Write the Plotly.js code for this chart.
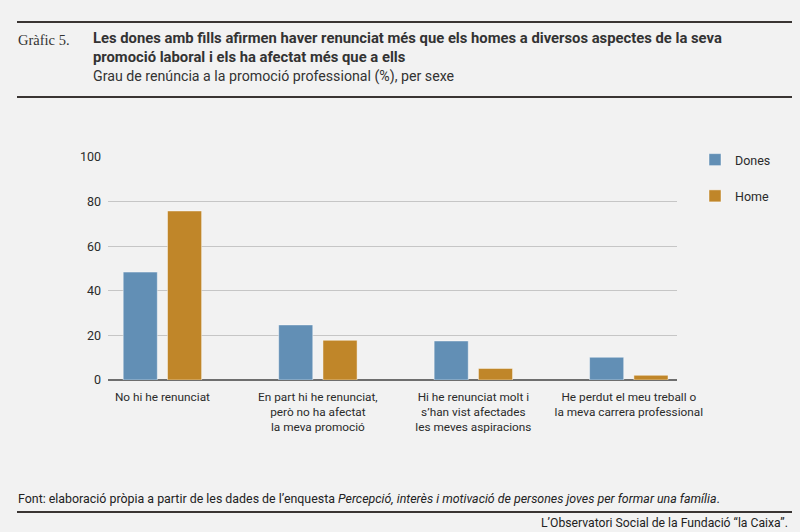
<!DOCTYPE html>
<html>
<head>
<meta charset="utf-8">
<script src="https://cdn.plot.ly/plotly-3.0.1.min.js"></script>
<style>
  html, body { margin: 0; padding: 0; background: #f2f2f2; }
  #chart { width: 800px; height: 532px; }
</style>
</head>
<body>
<div id="chart"></div>
<script>
const categories = [
    "No hi he renunciat",
    "En part hi he renunciat,<br>però no ha afectat<br>la meva promoció",
    "Hi he renunciat molt i<br>s’han vist afectades<br>les meves aspiracions",
    "He perdut el meu treball o<br>la meva carrera professional"
];
const dones = [48.4, 24.7, 17.5, 10.2];
const home = [75.8, 17.8, 5.2, 2.1];
const yTicks = [0, 20, 40, 60, 80, 100];

const sans = "Roboto, 'Liberation Sans', sans-serif";
const textColour = "#2b2b2b";
const ruleColour = "#3a3533";

// paper coords are relative to the plot area (108..677 x, 157..380 y)
const px = x => (x - 108) / 569;
const py = y => (380 - y) / 223;

const data = [
    {
        x: categories,
        y: dones,
        name: "Dones",
        type: "bar",
        legendgroup: "a",
        marker: { color: "#628fb5", line: { color: "rgba(255,255,255,0.45)", width: 1 } },
        hoverinfo: "y"
    },
    {
        x: categories,
        y: home,
        name: "Home",
        type: "bar",
        legendgroup: "b",
        marker: { color: "#c08629", line: { color: "rgba(255,255,255,0.45)", width: 1 } },
        hoverinfo: "y"
    }
];

const rule = y => ({
    type: "line", xref: "paper", yref: "paper",
    x0: px(17), x1: px(792), y0: py(y), y1: py(y),
    line: { color: ruleColour, width: 2.2 }
});

const layout = {
    width: 800,
    height: 532,
    paper_bgcolor: "#f2f2f2",
    plot_bgcolor: "#f2f2f2",
    margin: { l: 108, r: 123, t: 157, b: 152 },
    barmode: "group",
    bargap: 0.43,
    bargroupgap: 0.23,
    font: { family: sans, size: 12, color: textColour },
    showlegend: true,
    legend: {
        x: px(695), y: py(145),
        xanchor: "left", yanchor: "top",
        bgcolor: "rgba(0,0,0,0)",
        font: { family: sans, size: 12.5, color: textColour },
        traceorder: "grouped",
        tracegroupgap: 17
    },
    xaxis: {
        type: "category",
        range: [-0.35, 3.31],
        showgrid: false,
        showline: false,
        zeroline: false,
        ticks: "",
        ticklabelstandoff: 8,
        tickfont: { family: sans, size: 11.8, color: textColour },
        fixedrange: true
    },
    yaxis: {
        range: [0, 100],
        tickvals: yTicks,
        ticktext: yTicks.map(String),
        showgrid: true,
        gridcolor: "#c6c6c6",
        gridwidth: 1,
        zeroline: true,
        zerolinecolor: "#6e6e6e",
        zerolinewidth: 1.6,
        showline: false,
        ticks: "",
        ticklabelstandoff: 6,
        tickfont: { family: sans, size: 12.5, color: textColour },
        fixedrange: true
    },
    shapes: [rule(22), rule(97), rule(512)],
    annotations: [
        {
            text: "Gràfic 5.",
            xref: "paper", yref: "paper", x: px(16), y: py(40),
            xanchor: "left", yanchor: "middle", showarrow: false,
            font: { family: "'Liberation Serif', 'DejaVu Serif', serif", size: 14.5, color: "#333" }
        },
        {
            text: "<b>Les dones amb fills afirmen haver renunciat més que els homes a diversos aspectes de la seva<br>promoció laboral i els ha afectat més que a ells</b>",
            xref: "paper", yref: "paper", x: px(91), y: py(47.8),
            xanchor: "left", yanchor: "middle", align: "left", showarrow: false,
            font: { family: sans, size: 14.8, color: "#333" }
        },
        {
            text: "Grau de renúncia a la promoció professional (%), per sexe",
            xref: "paper", yref: "paper", x: px(91), y: py(76.5),
            xanchor: "left", yanchor: "middle", showarrow: false,
            font: { family: sans, size: 14.2, color: "#333" }
        },
        {
            text: "Font: elaboració pròpia a partir de les dades de l’enquesta <i>Percepció, interès i motivació de persones joves per formar una família</i>.",
            xref: "paper", yref: "paper", x: px(16), y: py(498),
            xanchor: "left", yanchor: "middle", showarrow: false,
            font: { family: sans, size: 12.4, color: "#222" }
        },
        {
            text: "L’Observatori Social de la Fundació “la Caixa”.",
            xref: "paper", yref: "paper", x: px(790), y: py(523),
            xanchor: "right", yanchor: "middle", showarrow: false,
            font: { family: sans, size: 12.2, color: "#222" }
        }
    ]
};

Plotly.newPlot("chart", data, layout, { displayModeBar: false, staticPlot: true });
</script>
</body>
</html>
